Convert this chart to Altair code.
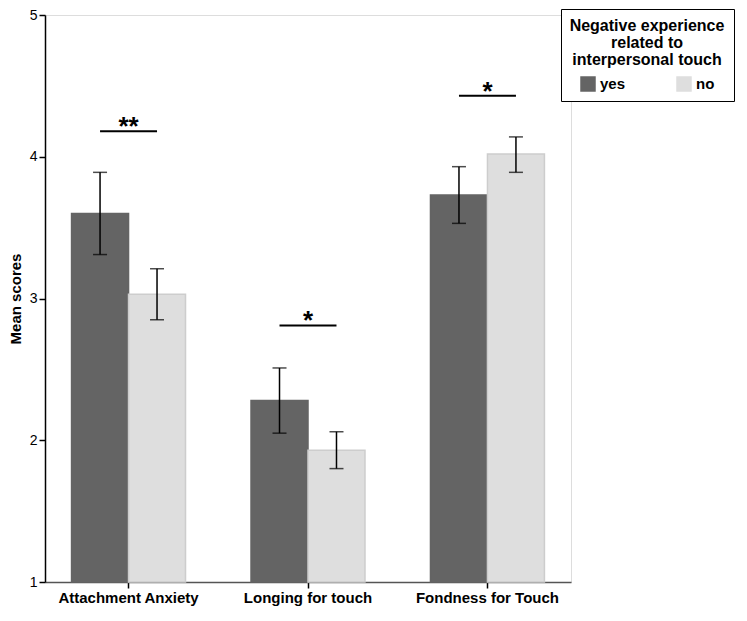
import altair as alt
import pandas as pd

measures = ["Attachment Anxiety", "Longing for touch", "Fondness for Touch"]
groups = ["yes", "no"]
mean_yes = [3.60, 2.28, 3.73]
mean_no = [3.03, 1.93, 4.02]
low_yes = [3.31, 2.05, 3.53]
high_yes = [3.89, 2.51, 3.93]
low_no = [2.85, 1.80, 3.89]
high_no = [3.21, 2.06, 4.14]
sig_level = [4.18, 2.81, 4.43]
sig_label = ["**", "*", "*"]

rows = []
for i, m in enumerate(measures):
    rows.append({"measure": m, "group": "yes", "mean": mean_yes[i], "lo": low_yes[i], "hi": high_yes[i]})
    rows.append({"measure": m, "group": "no", "mean": mean_no[i], "lo": low_no[i], "hi": high_no[i]})
df = pd.DataFrame(rows)
sig = pd.DataFrame({"measure": measures, "y": sig_level, "label": sig_label})

FONT = "Liberation Sans"

xscale = alt.Scale(domain=measures, paddingInner=0.365, paddingOuter=0.148, align=0.5)
xenc = alt.X("measure:N", scale=xscale, sort=measures,
             axis=alt.Axis(title=None, labelAngle=0, labelFontSize=15, labelFontWeight="bold",
                           labelColor="black", labelPadding=2, tickSize=6, tickColor="black",
                           tickWidth=1.5, domainColor="#555555", domainWidth=1.5,
                           labelFont=FONT))
yscale = alt.Scale(domain=[1, 5], nice=False, zero=False)
xoff = alt.XOffset("group:N", scale=alt.Scale(domain=groups, paddingInner=0, paddingOuter=0), sort=groups)

bars = alt.Chart(df).mark_bar(strokeWidth=1.5).encode(
    x=xenc,
    xOffset=xoff,
    y=alt.Y("mean:Q", scale=yscale,
            axis=alt.Axis(title="Mean scores", titleFontSize=15, titleFontWeight="bold",
                          titleFont=FONT, titleColor="black", titlePadding=6,
                          values=[1, 1.5, 2, 2.5, 3, 3.5, 4, 4.5, 5], format="d",
                          labelExpr="datum.value % 1 === 0 ? datum.label : ''",
                          tickSize={"condition": {"test": "datum.value % 1 === 0", "value": 6}, "value": 3},
                          labelFontSize=14, labelColor="black", labelFont=FONT, labelPadding=2,
                          tickColor="black", tickWidth=1.5, domainColor="black", domainWidth=1.5,
                          grid=False)),
    y2=alt.datum(1),
    fill=alt.Fill("group:N", sort=groups,
                  scale=alt.Scale(domain=groups, range=["#646464", "#dedede"]),
                  legend=alt.Legend(title=["Negative experience", "related to", "interpersonal touch"],
                                    orient="none", legendX=516, legendY=-6,
                                    direction="horizontal", columns=2, columnPadding=50,
                                    titleFontSize=16, titleFontWeight="bold", titleFont=FONT,
                                    titleColor="black", titleAlign="center", titleAnchor="middle",
                                    titleLineHeight=17, titlePadding=8,
                                    labelFontSize=15, labelFontWeight="bold", labelFont=FONT,
                                    labelColor="black", symbolType="square", symbolSize=240,
                                    symbolStrokeWidth=0, padding=9,
                                    strokeColor="black", fillColor="white")),
    stroke=alt.Stroke("group:N", scale=alt.Scale(domain=groups, range=["#646464", "#cdcdcd"]), legend=None),
)

err = alt.Chart(df).mark_rule(color="black", strokeWidth=1.5).encode(
    x=alt.X("measure:N", sort=measures), xOffset=alt.XOffset("group:N", sort=groups),
    y=alt.Y("lo:Q"), y2="hi:Q")
cap_lo = alt.Chart(df).mark_tick(color="black", size=14, thickness=1.5).encode(
    x=alt.X("measure:N", sort=measures), xOffset=alt.XOffset("group:N", sort=groups),
    y=alt.Y("lo:Q"))
cap_hi = alt.Chart(df).mark_tick(color="black", size=14, thickness=1.5).encode(
    x=alt.X("measure:N", sort=measures), xOffset=alt.XOffset("group:N", sort=groups),
    y=alt.Y("hi:Q"))

sig_line = alt.Chart(sig).mark_rule(color="black", strokeWidth=2).encode(
    x=alt.X("measure:N", sort=measures, bandPosition=0.25),
    x2=alt.X2("measure:N", bandPosition=0.75),
    y=alt.Y("y:Q"))
sig_text = alt.Chart(sig).mark_text(font=FONT, fontSize=26, fontWeight="bold", color="black",
                                    baseline="alphabetic", dy=4).encode(
    x=alt.X("measure:N", sort=measures), y=alt.Y("y:Q"), text="label:N")

chart = alt.layer(bars, err, cap_lo, cap_hi, sig_line, sig_text).properties(
    width=526, height=567, padding={"left": 0, "top": 0, "right": 0, "bottom": 5}
).configure_view(stroke=None).configure(font=FONT)

chart.save("out.html", embed_options={"renderer": "svg", "actions": False})
